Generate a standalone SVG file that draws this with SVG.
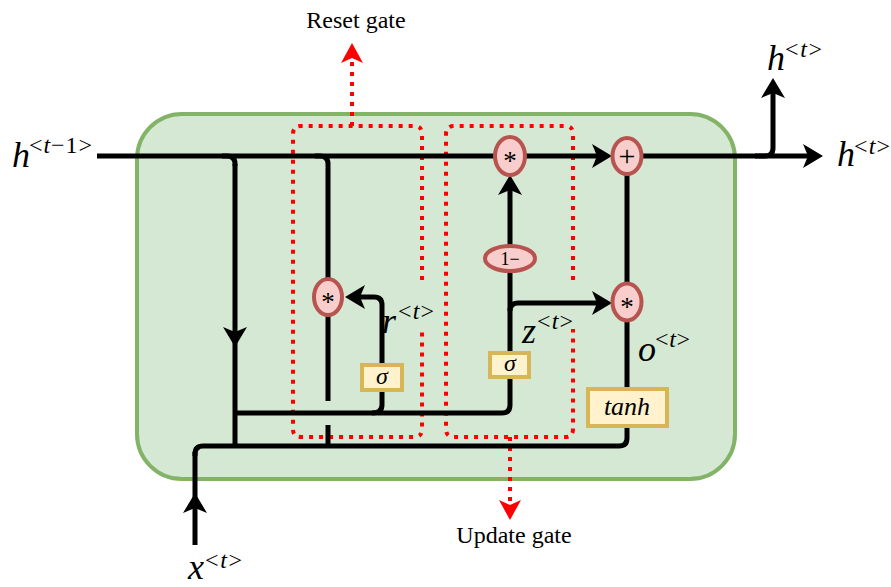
<svg xmlns="http://www.w3.org/2000/svg" width="891" height="587" viewBox="0 0 891 587">
<style>
.ln{fill:none;stroke:#000;stroke-width:5}
.red{fill:none;stroke:#ff0000;stroke-width:4;stroke-dasharray:4 6}
.op{fill:#f8cecc;stroke:#b85450;stroke-width:4}
.fn{fill:#fff2cc;stroke:#d6b656;stroke-width:4}
.t{font-family:"Liberation Serif",serif;fill:#000}
.v{font-family:"Liberation Serif",serif;font-style:italic;font-size:36px;fill:#000}
.s{font-family:"Liberation Serif",serif;font-size:24px;fill:#000}
.i{font-style:italic}
</style>
<defs>
<marker id="arr" markerUnits="userSpaceOnUse" markerWidth="24" markerHeight="24" refX="5" refY="12" orient="auto" overflow="visible"><path d="M0,0 L20,12 L0,24 L5,12 Z" fill="#000" stroke="none"/></marker>
<marker id="rarr" markerUnits="userSpaceOnUse" markerWidth="24" markerHeight="24" refX="5" refY="11" orient="auto" overflow="visible"><path d="M0,0 L20,11 L0,22 L5,11 Z" fill="#ff0000" stroke="none"/></marker>
</defs>
<rect width="891" height="587" fill="#fff"/>
<g id="cell"><rect x="137" y="114" width="598" height="365" rx="45" fill="#d5e8d4" stroke="#82b366" stroke-width="4"/></g>
<g id="reset-gate">
<path class="red" d="M422,280 V134 Q422,126 414,126 H301 Q293,126 293,134 V429 Q293,437 301,437 H414 Q422,437 422,429 V329"/>
<path class="red" d="M352,126 V58" marker-end="url(#rarr)"/>
<text class="t" x="356" y="28" font-size="24" text-anchor="middle">Reset gate</text>
</g>
<g id="update-gate">
<path class="red" d="M573,280 V134 Q573,126 565,126 H454 Q446,126 446,134 V429 Q446,437 454,437 H565 Q573,437 573,429 V329"/>
<path class="red" d="M510,437 V505" marker-end="url(#rarr)"/>
<text class="t" x="514" y="543" font-size="24" text-anchor="middle">Update gate</text>
</g>
<g id="connectors">
<path class="ln" d="M97,156 H495"/>
<path class="ln" d="M525,156 H597" marker-end="url(#arr)"/>
<path class="ln" d="M642,156 H808" marker-end="url(#arr)"/>
<path class="ln" d="M755,156 H765 Q773,156 773,148 V93" marker-end="url(#arr)"/>
<path class="ln" d="M222,156 H227 Q235,156 235,164 V166"/>
<path class="ln" d="M235,164 L235,332 L235,448" marker-mid="url(#arr)"/>
<path class="ln" d="M315,156 H320 Q328,156 328,164 V281"/>
<path class="ln" d="M328,313 V401"/>
<path class="ln" d="M328,425 V446"/>
<path class="ln" d="M235,413 H502 Q510,413 510,405 V377"/>
<path class="ln" d="M372,413 Q382,413 382,405 V390"/>
<path class="ln" d="M382,365 V305 Q382,297 374,297 H360" marker-end="url(#arr)"/>
<path class="ln" d="M510,353 V271"/>
<path class="ln" d="M510,311 Q510,303 518,303 H597" marker-end="url(#arr)"/>
<path class="ln" d="M510,246 V190" marker-end="url(#arr)"/>
<path class="ln" d="M627,174 V284"/>
<path class="ln" d="M627,320 V389"/>
<path class="ln" d="M195,545 L195,508 L195,452" marker-mid="url(#arr)"/>
<path class="ln" d="M195,456 V454 Q195,446 203,446 H619 Q627,446 627,438 V426"/>
</g>
<g id="mul-r"><ellipse class="op" cx="328" cy="297" rx="14" ry="18"/><text class="t" x="328" y="311" font-size="27" text-anchor="middle">*</text></g>
<g id="mul-top"><ellipse class="op" cx="510" cy="156" rx="15" ry="19"/><text class="t" x="510" y="170" font-size="27" text-anchor="middle">*</text></g>
<g id="plus"><ellipse class="op" cx="627" cy="156" rx="14.5" ry="18"/><text class="t" x="627" y="166" font-size="30" text-anchor="middle">+</text></g>
<g id="mul-o"><ellipse class="op" cx="627" cy="302" rx="14.5" ry="18.5"/><text class="t" x="627" y="316" font-size="27" text-anchor="middle">*</text></g>
<g id="one-minus"><ellipse class="op" cx="510" cy="258.5" rx="25" ry="12.5"/><text class="t" x="510" y="265" font-size="18" text-anchor="middle">1−</text></g>
<g id="sigma-r"><rect class="fn" x="362" y="365" width="40" height="25"/><text class="t i" x="382" y="384" font-size="24" text-anchor="middle">σ</text></g>
<g id="sigma-z"><rect class="fn" x="490" y="353" width="39" height="24"/><text class="t i" x="510" y="371" font-size="24" text-anchor="middle">σ</text></g>
<g id="tanh"><rect class="fn" x="588" y="389" width="79" height="37"/><text class="t i" x="627" y="415" font-size="26" text-anchor="middle">tanh</text></g>
<g id="labels">
<text class="v" x="12" y="167">h</text><text class="s" x="29" y="153" textLength="63" lengthAdjust="spacing">&lt;<tspan class="i">t</tspan>−1&gt;</text>
<text class="v" x="837" y="166">h</text><text class="s" x="854" y="154" textLength="36" lengthAdjust="spacing">&lt;<tspan class="i">t</tspan>&gt;</text>
<text class="v" x="767" y="70">h</text><text class="s" x="785" y="57" textLength="37" lengthAdjust="spacing">&lt;<tspan class="i">t</tspan>&gt;</text>
<text class="v" x="382" y="333">r</text><text class="s" x="398" y="319" textLength="36" lengthAdjust="spacing">&lt;<tspan class="i">t</tspan>&gt;</text>
<text class="v" x="522" y="343">z</text><text class="s" x="537" y="329" textLength="36" lengthAdjust="spacing">&lt;<tspan class="i">t</tspan>&gt;</text>
<text class="v" x="638" y="361">o</text><text class="s" x="655" y="347" textLength="35" lengthAdjust="spacing">&lt;<tspan class="i">t</tspan>&gt;</text>
<text class="v" x="188" y="579" font-size="32">x</text><text class="s" x="205" y="568" textLength="37" lengthAdjust="spacing">&lt;<tspan class="i">t</tspan>&gt;</text>
</g>
</svg>
